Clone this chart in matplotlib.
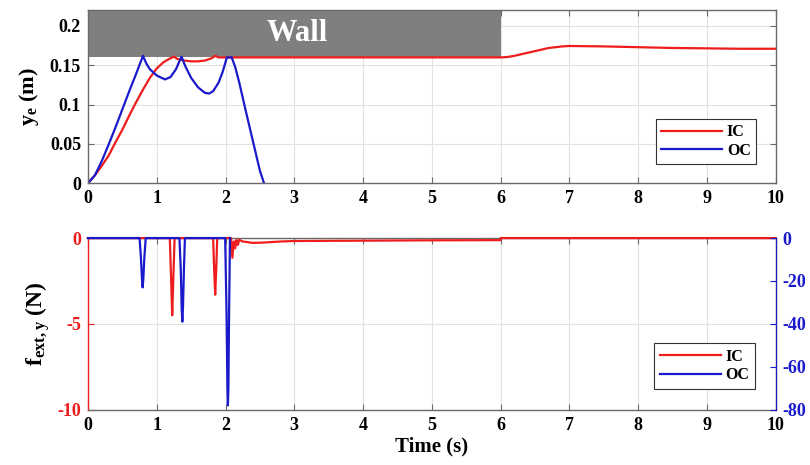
import matplotlib
matplotlib.use('Agg')
import matplotlib.pyplot as plt
from matplotlib.lines import Line2D
from matplotlib.patches import Rectangle

plt.rcParams['font.family'] = ['Liberation Serif', 'DejaVu Serif']
plt.rcParams['font.weight'] = 'bold'
plt.rcParams['axes.unicode_minus'] = False
plt.rcParams['mathtext.fontset'] = 'custom'
plt.rcParams['mathtext.rm'] = 'Liberation Serif:bold'
plt.rcParams['mathtext.bf'] = 'Liberation Serif:bold'
plt.rcParams['mathtext.it'] = 'Liberation Serif:bold'

RED = '#ee1c1c'
BLUE = '#1a1acc'
SPINE = '#6a6a6a'
GRID = '#e2e2e2'

# ---- top panel: end-effector position y_e (m) ----
t_ic_pos = [0, 0.1, 0.2, 0.3, 0.4, 0.5, 0.6, 0.7, 0.8, 0.9, 1.0, 1.1, 1.2, 1.25,
            1.3, 1.4, 1.5, 1.6, 1.7, 1.8, 1.85, 1.9, 2.0, 6.0, 6.1, 6.2, 6.3, 6.4,
            6.5, 6.6, 6.7, 6.8, 6.9, 7.0, 7.5, 8.0, 8.5, 9.0, 9.5, 10.0]
y_ic_pos = [0, 0.010, 0.022, 0.035, 0.052, 0.068, 0.086, 0.103, 0.119, 0.134, 0.146,
            0.154, 0.159, 0.161, 0.158, 0.156, 0.155, 0.155, 0.156, 0.159, 0.162,
            0.160, 0.160, 0.160, 0.1605, 0.162, 0.164, 0.166, 0.168, 0.170, 0.172,
            0.173, 0.174, 0.1745, 0.174, 0.173, 0.172, 0.1715, 0.171, 0.171]

t_oc_pos = [0, 0.1, 0.2, 0.3, 0.4, 0.5, 0.6, 0.7, 0.8, 0.85, 0.9, 1.0, 1.12, 1.2,
            1.28, 1.36, 1.42, 1.5, 1.6, 1.7, 1.76, 1.82, 1.9, 1.96, 2.02, 2.09,
            2.14, 2.2, 2.3, 2.4, 2.5, 2.56]
y_oc_pos = [0, 0.010, 0.028, 0.049, 0.071, 0.094, 0.117, 0.139, 0.162, 0.152, 0.145,
            0.137, 0.132, 0.135, 0.145, 0.161, 0.148, 0.134, 0.122, 0.115, 0.114,
            0.117, 0.128, 0.142, 0.160, 0.160, 0.148, 0.128, 0.090, 0.053, 0.016, 0.0]

wall_start, wall_end, wall_level = 0, 6, 0.16

# ---- bottom panel: external force f_ext,y (N) ----
t_ic_f = [0, 1.19, 1.21, 1.225, 1.24, 1.26, 1.82, 1.835, 1.85, 1.865, 1.88, 2.08,
          2.1, 2.12, 2.14, 2.16, 2.18, 2.2, 2.25, 2.4, 2.55, 2.8, 3.0, 4.0, 5.0,
          6.0, 6.0001, 10.0]
f_ic = [0, 0, -2.5, -4.5, -2.5, 0, 0, -1.8, -3.3, -1.8, 0, 0,
        -1.15, -0.2, -0.6, -0.1, -0.4, -0.1, -0.2, -0.28, -0.26, -0.2, -0.17,
        -0.15, -0.13, -0.12, 0, 0]

t_oc_f = [0, 0.75, 0.77, 0.785, 0.795, 0.805, 0.82, 0.84, 1.33, 1.35, 1.362,
          1.372, 1.382, 1.395, 1.41, 1.995, 2.015, 2.028, 2.035, 2.042, 2.052,
          2.065]
f_oc = [0, 0, -9, -19, -23, -19, -9, 0, 0, -15, -32, -39, -32, -15, 0, 0, -35,
        -70, -78, -70, -35, 0]

x_ticks = list(range(0, 11))
pos_ticks = [0, 0.05, 0.1, 0.15, 0.2]
pos_tick_labels = ['0', '0.05', '0.1', '0.15', '0.2']
f_left_ticks = [-10, -5, 0]
f_right_ticks = [-80, -60, -40, -20, 0]

fig = plt.figure(figsize=(8.1, 4.65), dpi=100)
ax1 = fig.add_axes((0.1086, 0.606, 0.849, 0.372))
ax2 = fig.add_axes((0.1086, 0.119, 0.849, 0.369))


def style_axes(ax):
    ax.set_xlim(0, 10)
    ax.set_xticks(x_ticks)
    ax.grid(True, color=GRID, linewidth=0.8)
    ax.set_axisbelow(True)
    ax.tick_params(direction='in', length=4, width=0.8, labelsize=13,
                   top=True, right=True, color=SPINE, pad=5)
    for sp in ax.spines.values():
        sp.set_color(SPINE)
        sp.set_linewidth(1.0)


# top
style_axes(ax1)
ax1.set_ylim(0, 0.22)
ax1.set_yticks(pos_ticks)
ax1.set_yticklabels(pos_tick_labels)
ax1.add_patch(Rectangle((wall_start, wall_level), wall_end - wall_start, 0.22 - wall_level,
                        facecolor='#7f7f7f', edgecolor='none', zorder=1.5))
ax1.text(3.05, 0.19, 'Wall', color='white', fontsize=22, fontweight='bold',
         ha='center', va='center', zorder=3)
ax1.plot(t_ic_pos, y_ic_pos, color=RED, linewidth=1.6, label='IC', zorder=2)
ax1.plot(t_oc_pos, y_oc_pos, color=BLUE, linewidth=1.6, label='OC', zorder=2.1)
ax1.set_ylabel(r'$\mathregular{y_e}$ (m)', fontsize=16, fontweight='bold', labelpad=6)
leg1 = ax1.legend(loc='lower right', bbox_to_anchor=(0.972, 0.11), fontsize=11.5,
                  fancybox=False, framealpha=1, edgecolor='#333333',
                  handlelength=3.8, handletextpad=0.3, borderpad=0.35,
                  labelspacing=0.15, borderaxespad=0)
leg1.get_frame().set_linewidth(0.8)

# bottom
style_axes(ax2)
ax2.set_ylim(-10, 0)
ax2.set_yticks(f_left_ticks)
ax2.tick_params(axis='y', colors=RED, right=False)
ax2.tick_params(axis='y', labelcolor=RED)
ax2.spines['left'].set_color(RED)
ax2.plot(t_ic_f, f_ic, color=RED, linewidth=1.6, zorder=3, clip_on=False)
ax2.set_ylabel(r'$\mathregular{f_{ext,y}}$ (N)', fontsize=17, fontweight='bold', labelpad=4)
ax2.set_xlabel('Time (s)', fontsize=15, fontweight='bold', labelpad=2)

ax3 = ax2.twinx()
ax3.set_ylim(-80, 0)
ax3.set_yticks(f_right_ticks)
ax3.tick_params(axis='y', direction='in', length=4, width=0.8, labelsize=13,
                colors=BLUE, labelcolor=BLUE, pad=5)
ax3.spines['right'].set_color(BLUE)
ax3.spines['left'].set_visible(False)
ax3.spines['top'].set_visible(False)
ax3.spines['bottom'].set_visible(False)
ax3.plot(t_oc_f, f_oc, color=BLUE, linewidth=1.6, zorder=2, clip_on=False)

handles = [Line2D([], [], color=RED, linewidth=1.6), Line2D([], [], color=BLUE, linewidth=1.6)]
leg2 = ax3.legend(handles, ['IC', 'OC'], loc='lower right', bbox_to_anchor=(0.97, 0.12),
                  fontsize=11.5, fancybox=False, framealpha=1, edgecolor='#333333',
                  handlelength=3.8, handletextpad=0.3, borderpad=0.35, labelspacing=0.15,
                  borderaxespad=0)
leg2.get_frame().set_linewidth(0.8)

for lab in ax1.get_xticklabels() + ax1.get_yticklabels() + ax2.get_xticklabels() \
        + ax2.get_yticklabels() + ax3.get_yticklabels():
    lab.set_fontweight('bold')

fig.savefig('out.png', dpi=100)
